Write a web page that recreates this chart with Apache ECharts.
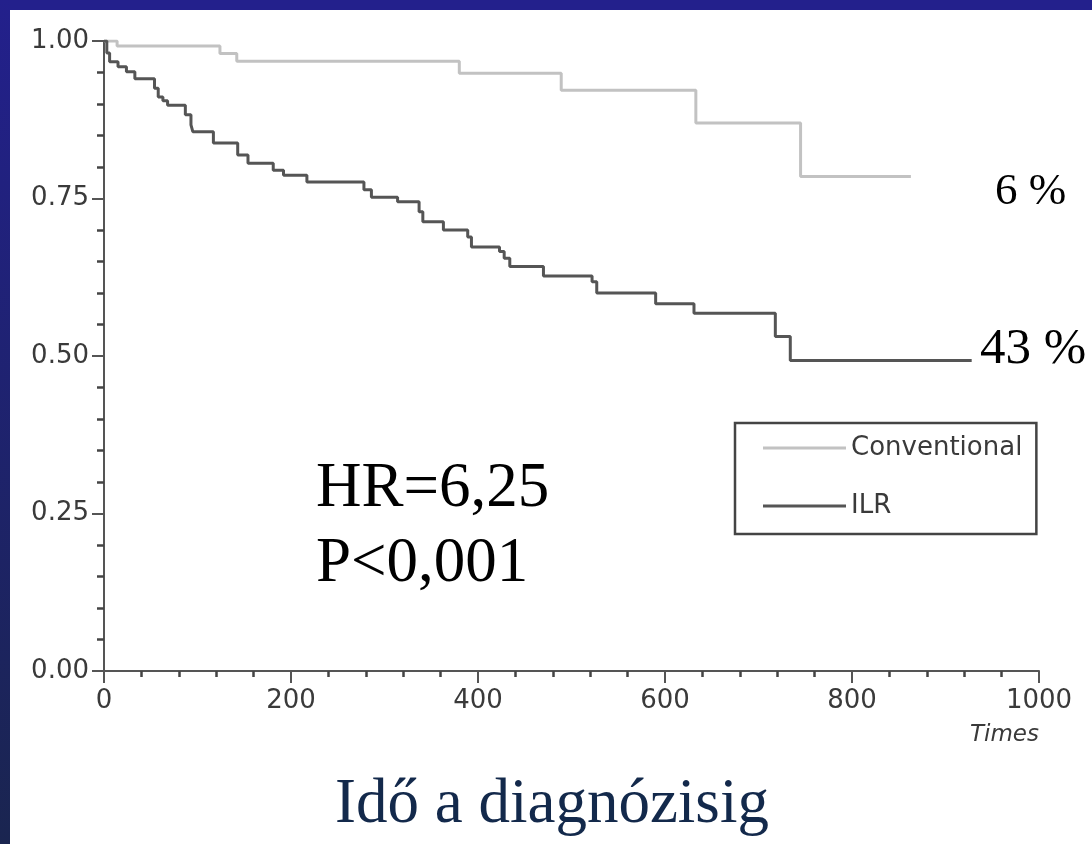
<!DOCTYPE html>
<html>
<head>
<meta charset="utf-8">
<script src="https://cdn.jsdelivr.net/npm/echarts@6/dist/echarts.min.js"></script>
<style>
html, body { margin: 0; padding: 0; background: #ffffff; }
#main { width: 1092px; height: 844px; }
</style>
</head>
<body>
<div id="main"></div>
<script>
// Kaplan-Meier curves, values
var convTime = [0, 14, 124, 142, 380, 489, 633, 745, 863]
var convSurv = [1.000, 0.992, 0.980, 0.968, 0.949, 0.922, 0.870, 0.785, 0.785]

var ilrTime = [0, 3, 6, 15, 24, 33, 54, 58, 63, 68, 87, 93, 95, 117, 143, 154, 181, 192, 217,
  278, 286, 314, 337, 341, 363, 389, 393, 423, 428, 434, 470, 522, 527, 590, 631, 718, 734, 928]
var ilrSurv = [1.000, 0.981, 0.967, 0.959, 0.951, 0.940, 0.925, 0.911, 0.905, 0.898, 0.883,
  0.867, 0.856, 0.838, 0.819, 0.806, 0.795, 0.787, 0.776, 0.764, 0.752, 0.745, 0.729, 0.713,
  0.700, 0.689, 0.673, 0.666, 0.655, 0.642, 0.627, 0.618, 0.600, 0.583, 0.568, 0.531, 0.493, 0.493]

var seriesNames = ['Conventional', 'ILR']
var yTicks = [0, 0.25, 0.5, 0.75, 1]
var xTicks = [0, 200, 400, 600, 800, 1000]

function zip (a, b) {
  var out = []
  for (var i = 0; i < a.length; i++) out.push([a[i], b[i]])
  return out
}

var myChart = echarts.init(document.getElementById('main'))
var axisFont = 'DejaVu Sans'

myChart.setOption({
  backgroundColor: '#ffffff',
  animation: false,
  grid: { left: 104, right: 53, top: 41, bottom: 173 },
  xAxis: {
    type: 'value',
    min: xTicks[0],
    max: xTicks[xTicks.length - 1],
    interval: 200,
    axisLine: { show: true, lineStyle: { color: '#555', width: 2 } },
    axisTick: { show: true, length: 12, lineStyle: { color: '#555', width: 2 } },
    minorTick: { show: true, splitNumber: 5, length: 6, lineStyle: { color: '#444', width: 2.5 } },
    splitLine: { show: false },
    axisLabel: {
      color: '#3a3a3a', fontFamily: axisFont, fontSize: 26, margin: 17,
      formatter: function (v) { return String(v) }
    }
  },
  yAxis: {
    type: 'value',
    min: yTicks[0],
    max: yTicks[yTicks.length - 1],
    interval: 0.25,
    axisLine: { show: true, lineStyle: { color: '#555', width: 2 } },
    axisTick: { show: true, length: 12, lineStyle: { color: '#555', width: 2 } },
    minorTick: { show: true, splitNumber: 5, length: 7, lineStyle: { color: '#444', width: 2.5 } },
    splitLine: { show: false },
    axisLabel: {
      color: '#3a3a3a', fontFamily: axisFont, fontSize: 26, margin: 15,
      formatter: function (v) { return v.toFixed(2) }
    }
  },
  legend: {
    orient: 'vertical',
    left: 735,
    top: 423,
    data: seriesNames,
    icon: 'rect',
    itemWidth: 83,
    itemHeight: 3,
    itemGap: 32,
    padding: [12, 14, 15, 28],
    borderColor: '#444',
    borderWidth: 2.5,
    textStyle: { color: '#3a3a3a', fontFamily: axisFont, fontSize: 26 }
  },
  series: [
    {
      name: seriesNames[0],
      type: 'line',
      step: 'end',
      symbol: 'none',
      data: zip(convTime, convSurv),
      color: '#c2c2c2',
      lineStyle: { color: '#c2c2c2', width: 3 }
    },
    {
      name: seriesNames[1],
      type: 'line',
      step: 'end',
      symbol: 'none',
      data: zip(ilrTime, ilrSurv),
      color: '#555',
      lineStyle: { color: '#555', width: 3 }
    }
  ],
  graphic: [
    { type: 'rect', shape: { x: 0, y: 0, width: 1092, height: 10 }, style: { fill: '#23208c' } },
    {
      type: 'rect', shape: { x: 0, y: 0, width: 10, height: 844 },
      style: {
        fill: new echarts.graphic.LinearGradient(0, 0, 0, 1, [
          { offset: 0, color: '#23208c' }, { offset: 1, color: '#1a2550' }
        ])
      }
    },
    { type: 'text', left: 970, top: 724, style: { text: 'Times', font: 'italic 23px "DejaVu Sans"', fill: '#3a3a3a' } },
    { type: 'text', left: 995, top: 170, style: { text: '6 %', font: '45px "Liberation Serif"', fill: '#000' } },
    { type: 'text', left: 980, top: 324, style: { text: '43 %', font: '51px "Liberation Serif"', fill: '#000' } },
    { type: 'text', left: 316, top: 458, style: { text: 'HR=6,25', font: '63px "Liberation Serif"', fill: '#000' } },
    { type: 'text', left: 316, top: 533, style: { text: 'P<0,001', font: '63px "Liberation Serif"', fill: '#000' } },
    { type: 'text', left: 335, top: 774, style: { text: 'Idő a diagnózisig', font: '63px "Liberation Serif"', fill: '#13294b' } }
  ]
})
window.onresize = myChart.resize
</script>
</body>
</html>
